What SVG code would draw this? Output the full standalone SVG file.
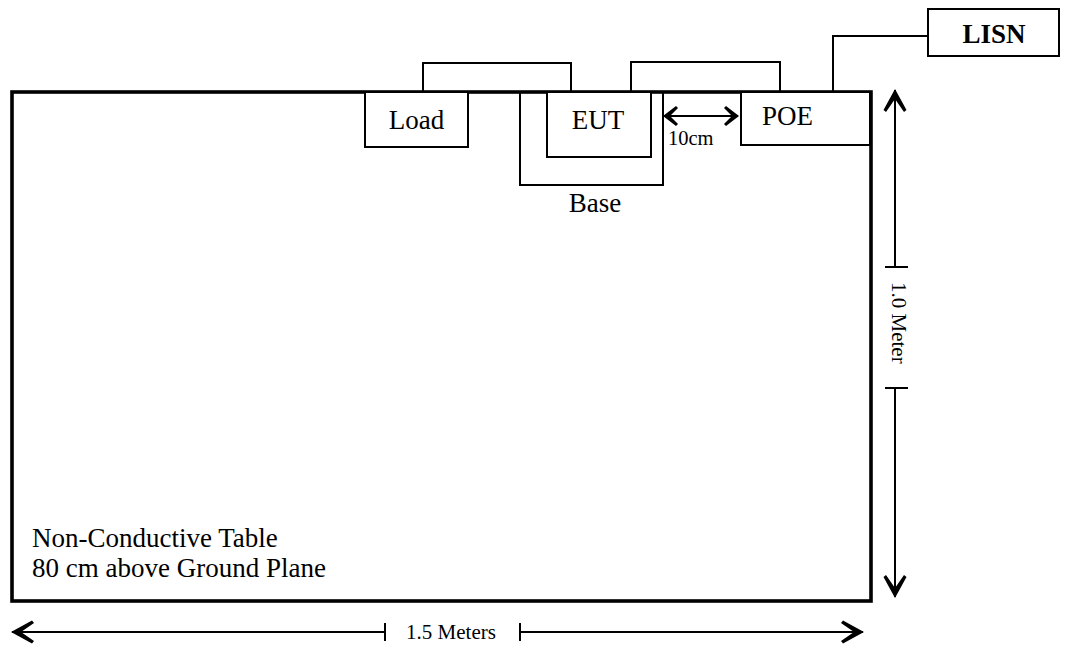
<svg xmlns="http://www.w3.org/2000/svg" width="1065" height="648" viewBox="0 0 1065 648">
<style>
.box{fill:#fff;stroke:#000;stroke-width:2}
.wire{fill:none;stroke:#000;stroke-width:2}
.dim{fill:none;stroke:#000;stroke-width:2}
.t{font-family:"Liberation Serif","Times New Roman",serif;fill:#000}
.big{font-size:27px}
.small{font-size:21px}
</style>
<defs>
<marker id="ah" markerUnits="userSpaceOnUse" viewBox="-24 -12 26 24" refX="0" refY="0" markerWidth="26" markerHeight="24" orient="auto-start-reverse" overflow="visible">
<path d="M1,0 L-20,-11.5 L-22,-9 L-9,0 L-22,9 L-20,11.5 Z" fill="#000"/>
</marker>
<marker id="ahs" markerUnits="userSpaceOnUse" viewBox="-16 -11 18 22" refX="0" refY="0" markerWidth="18" markerHeight="22" orient="auto-start-reverse" overflow="visible">
<path d="M1,0 L-12,-10 L-14,-8 L-6,0 L-14,8 L-12,10 Z" fill="#000"/>
</marker>
</defs>
<rect width="1065" height="648" fill="#fff"/>
<g id="table">
<rect x="12" y="92" width="859" height="509" fill="none" stroke="#000" stroke-width="3.6"/>
<text class="t big" x="32" y="547">Non-Conductive Table</text>
<text class="t big" x="32" y="577">80 cm above Ground Plane</text>
</g>
<g id="connectors">
<polyline class="wire" points="423,92 423,63 571,63 571,92"/>
<polyline class="wire" points="631,92 631,62 780,62 780,92"/>
<polyline class="wire" points="833,92 833,36 928,36"/>
<line class="dim" x1="664" y1="116" x2="738" y2="116" marker-start="url(#ahs)" marker-end="url(#ahs)"/>
</g>
<g id="base">
<polyline class="wire" points="520,92 520,185 663,185 663,92"/>
<text class="t big" x="595" y="212" text-anchor="middle">Base</text>
</g>
<g id="load">
<rect class="box" x="365" y="92" width="103" height="55"/>
<text class="t big" x="416.5" y="129" text-anchor="middle">Load</text>
</g>
<g id="eut">
<rect class="box" x="547" y="92" width="104" height="65"/>
<text class="t big" x="598" y="129" text-anchor="middle">EUT</text>
</g>
<g id="poe">
<rect class="box" x="741" y="92" width="129" height="53"/>
<text class="t big" x="762" y="125">POE</text>
</g>
<g id="lisn">
<rect class="box" x="928" y="9" width="131" height="47"/>
<text class="t big" x="994" y="43" text-anchor="middle" font-weight="bold">LISN</text>
</g>
<g id="label-10cm">
<text class="t" font-size="20.5px" x="668" y="145">10cm</text>
</g>
<g id="dim-width">
<line class="dim" x1="385" y1="632" x2="12" y2="632" marker-end="url(#ah)"/>
<line class="dim" x1="385" y1="623" x2="385" y2="641"/>
<line class="dim" x1="520" y1="632" x2="863" y2="632" marker-end="url(#ah)"/>
<line class="dim" x1="520" y1="623" x2="520" y2="641"/>
<text class="t small" x="451" y="639" text-anchor="middle">1.5 Meters</text>
</g>
<g id="dim-height">
<line class="dim" x1="895" y1="267" x2="895" y2="90" marker-end="url(#ah)"/>
<line class="dim" x1="885" y1="267" x2="908" y2="267"/>
<line class="dim" x1="895" y1="388" x2="895" y2="597" marker-end="url(#ah)"/>
<line class="dim" x1="885" y1="388" x2="908" y2="388"/>
<text class="t small" transform="translate(892,282) rotate(90)">1.0 Meter</text>
</g>
</svg>
